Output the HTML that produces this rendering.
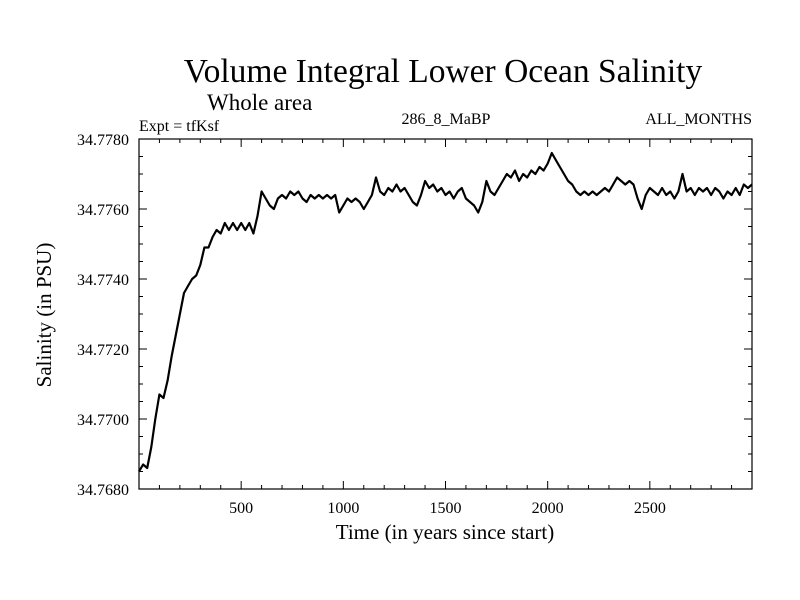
<!DOCTYPE html>
<html><head><meta charset="utf-8"><style>
html,body{margin:0;padding:0;background:#fff;}
svg{display:block;font-family:"Liberation Serif",serif;}
</style></head><body>
<svg id="chart" width="800" height="600" viewBox="0 0 800 600">
<rect x="0" y="0" width="800" height="600" fill="#fff"/>
<text x="443" y="82" font-size="33.5" text-anchor="middle">Volume Integral Lower Ocean Salinity</text>
<text x="207" y="110" font-size="23">Whole area</text>
<text x="139" y="131" font-size="16">Expt = tfKsf</text>
<text x="446" y="124" font-size="16" text-anchor="middle">286_8_MaBP</text>
<text x="752" y="124" font-size="16" text-anchor="end">ALL_MONTHS</text>
<text x="445" y="539" font-size="21" text-anchor="middle">Time (in years since start)</text>
<text x="0" y="0" font-size="21" text-anchor="middle" transform="translate(51,315) rotate(-90)">Salinity (in PSU)</text>
<g id="axes"></g>
<path id="series" fill="none" stroke="#000" stroke-width="2.2" stroke-linejoin="round"/>
</svg>
<script>
const xTicks = [500, 1000, 1500, 2000, 2500];
const yTicks = [34.768, 34.770, 34.772, 34.774, 34.776, 34.778];
const yTickLabels = ["34.7680", "34.7700", "34.7720", "34.7740", "34.7760", "34.7780"];
const years = [];
for (let i = 0; i <= 150; i++) years.push(i * 20);
const salinity = [34.7685,34.7687,34.7686,34.7692,34.7700,34.7707,34.7706,34.7711,34.7718,34.7724,34.7730,34.7736,34.7738,34.7740,34.7741,34.7744,34.7749,34.7749,34.7752,34.7754,34.7753,34.7756,34.7754,34.7756,34.7754,34.7756,34.7754,34.7756,34.7753,34.7758,34.7765,34.7763,34.7761,34.7760,34.7763,34.7764,34.7763,34.7765,34.7764,34.7765,34.7763,34.7762,34.7764,34.7763,34.7764,34.7763,34.7764,34.7763,34.7764,34.7759,34.7761,34.7763,34.7762,34.7763,34.7762,34.7760,34.7762,34.7764,34.7769,34.7765,34.7764,34.7766,34.7765,34.7767,34.7765,34.7766,34.7764,34.7762,34.7761,34.7764,34.7768,34.7766,34.7767,34.7765,34.7766,34.7764,34.7765,34.7763,34.7765,34.7766,34.7763,34.7762,34.7761,34.7759,34.7762,34.7768,34.7765,34.7764,34.7766,34.7768,34.7770,34.7769,34.7771,34.7768,34.7770,34.7769,34.7771,34.7770,34.7772,34.7771,34.7773,34.7776,34.7774,34.7772,34.7770,34.7768,34.7767,34.7765,34.7764,34.7765,34.7764,34.7765,34.7764,34.7765,34.7766,34.7765,34.7767,34.7769,34.7768,34.7767,34.7768,34.7767,34.7763,34.7760,34.7764,34.7766,34.7765,34.7764,34.7766,34.7764,34.7765,34.7763,34.7765,34.7770,34.7765,34.7766,34.7764,34.7766,34.7765,34.7766,34.7764,34.7766,34.7765,34.7763,34.7765,34.7764,34.7766,34.7764,34.7767,34.7766,34.7767];

const L = 139, R = 752, T = 139, B = 489;
const X0 = 0, X1 = 3000, Y0 = 34.768, Y1 = 34.778;
const sx = v => L + (v - X0) / (X1 - X0) * (R - L);
const sy = v => B - (v - Y0) / (Y1 - Y0) * (B - T);
const NS = "http://www.w3.org/2000/svg";
const axes = document.getElementById('axes');
function line(x1, y1, x2, y2, name) {
  const l = document.createElementNS(NS, 'line');
  l.setAttribute('x1', x1); l.setAttribute('y1', y1); l.setAttribute('x2', x2); l.setAttribute('y2', y2);
  l.setAttribute('stroke', '#000'); l.setAttribute('stroke-width', '1');
  
  
  axes.appendChild(l);
}
function text(x, y, s, anchor, name) {
  const t = document.createElementNS(NS, 'text');
  t.setAttribute('x', x); t.setAttribute('y', y); t.setAttribute('font-size', '16');
  t.setAttribute('text-anchor', anchor); t.textContent = s;
  
  
  axes.appendChild(t);
}
const frame = document.createElementNS(NS, 'rect');
frame.setAttribute('x', L); frame.setAttribute('y', T); frame.setAttribute('width', R - L); frame.setAttribute('height', B - T);
frame.setAttribute('fill', 'none'); frame.setAttribute('stroke', '#000'); frame.setAttribute('stroke-width', '1.2');


axes.appendChild(frame);
for (let v = 100; v < X1; v += 100) {
  const x = sx(v), major = v % 500 === 0, len = major ? 8 : 4;
  line(x, B, x, B - len, 'x-tick');
  line(x, T, x, T + len, 'x-tick-top');
}
xTicks.forEach(v => text(sx(v), 513, String(v), 'middle', 'x-tick-label'));
for (let k = 1; k < 20; k++) {
  const v = Y0 + k * 0.0005, y = sy(v), major = k % 4 === 0, len = major ? 8 : 4;
  line(L, y, L + len, y, 'y-tick');
  line(R, y, R - len, y, 'y-tick-right');
}
yTicks.forEach((v, i) => text(129, sy(v) + 6, yTickLabels[i], 'end', 'y-tick-label'));
let d = '';
salinity.forEach((v, i) => { d += (i ? 'L' : 'M') + sx(years[i]).toFixed(1) + ',' + sy(v).toFixed(1); });
document.getElementById('series').setAttribute('d', d);
</script>
</body></html>
